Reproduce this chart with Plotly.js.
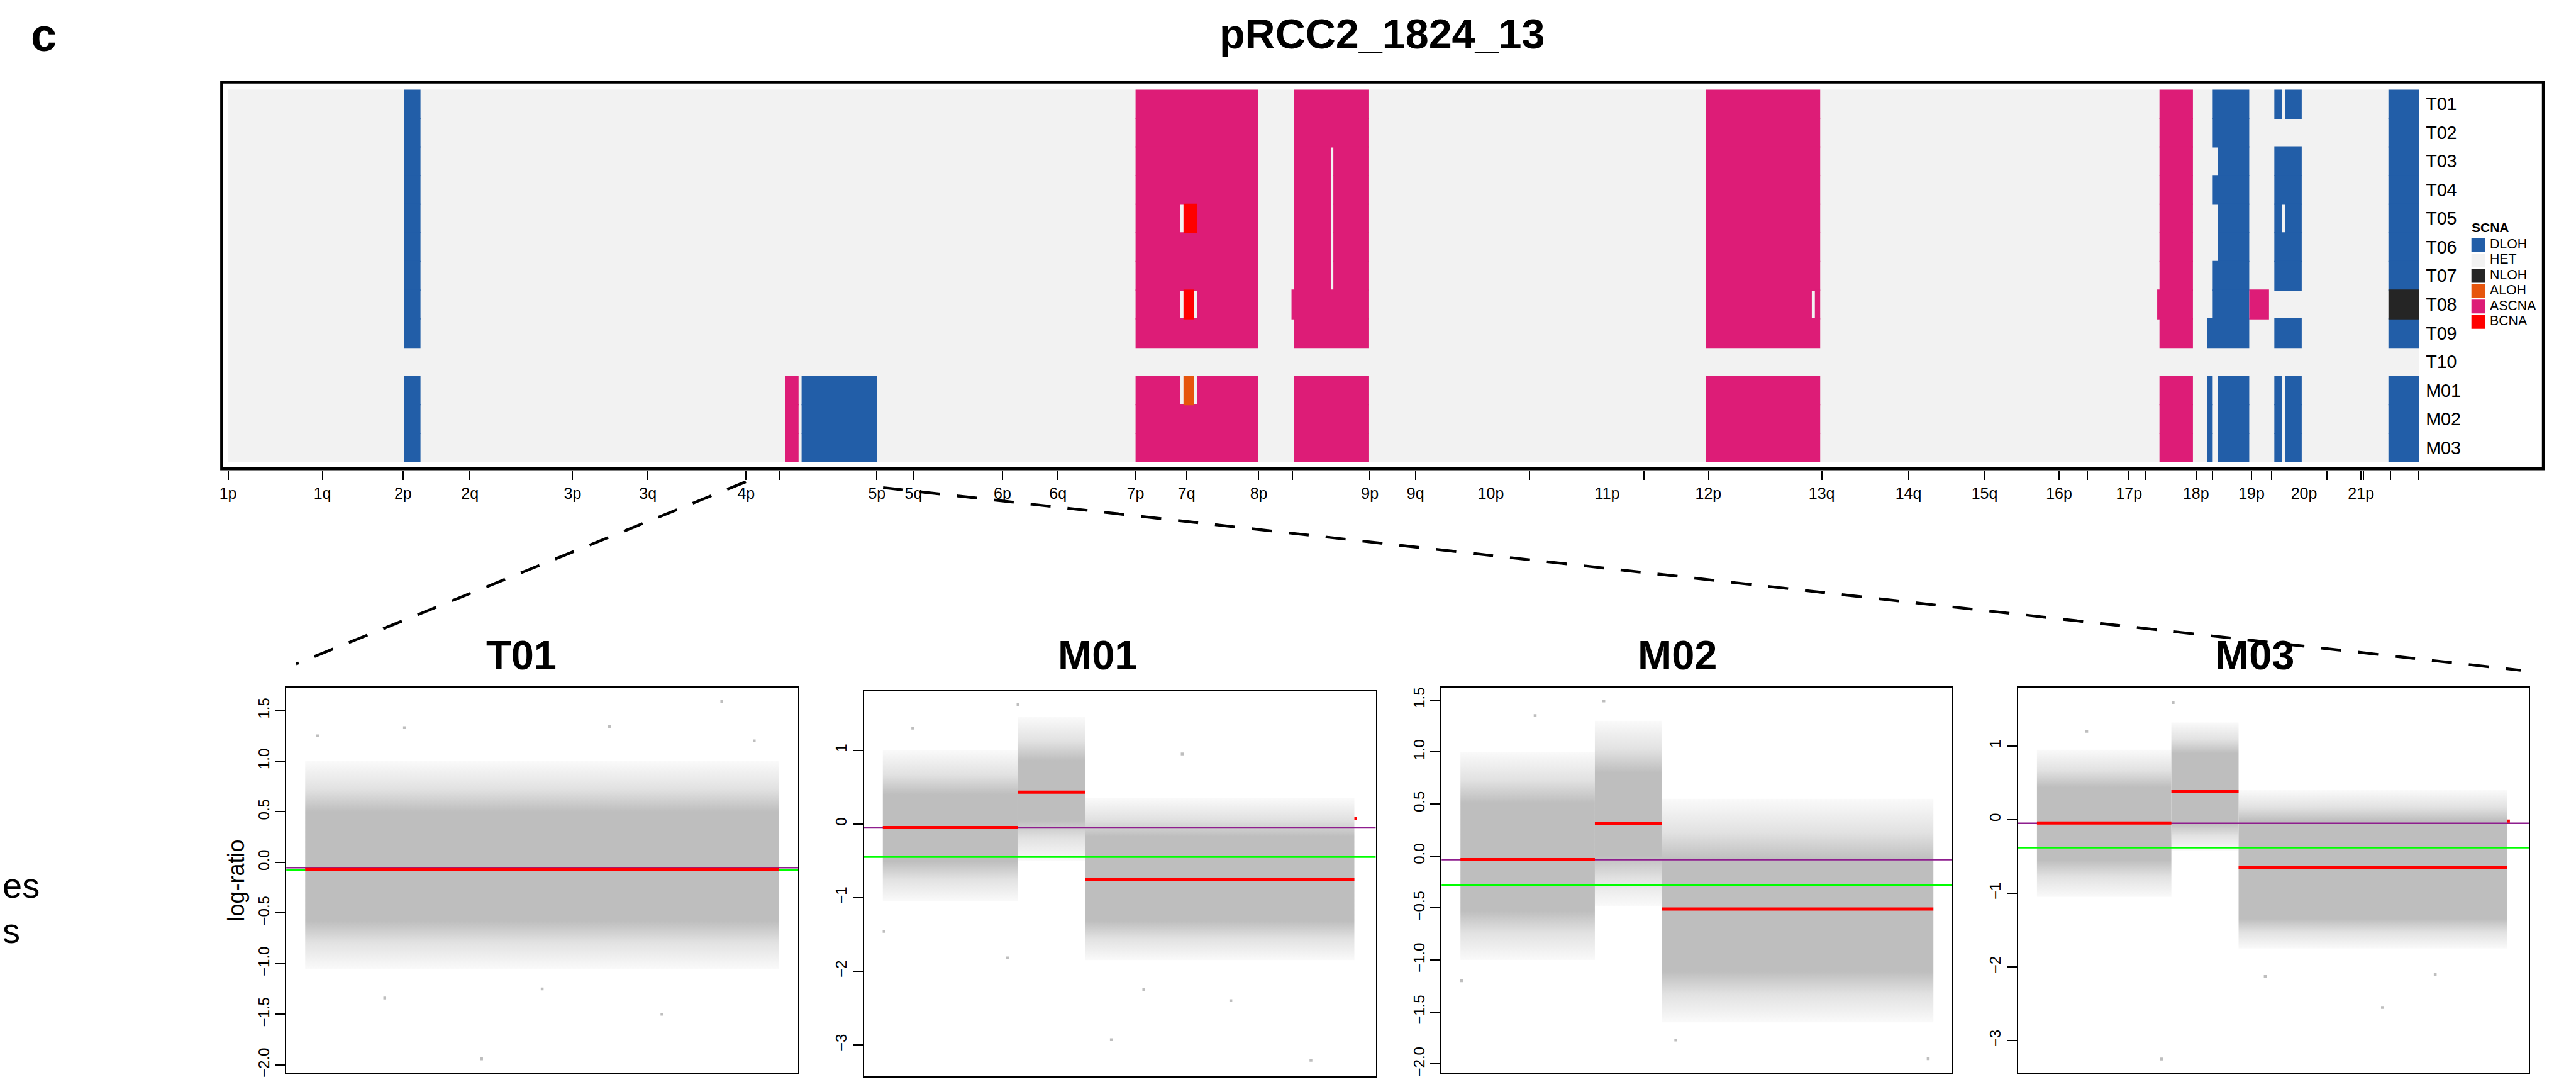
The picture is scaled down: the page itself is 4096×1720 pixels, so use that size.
<!DOCTYPE html>
<html>
<head>
<meta charset="utf-8">
<script src="https://cdn.plot.ly/plotly-3.0.1.min.js"></script>
<style>
html,body{margin:0;padding:0;background:#ffffff;overflow:hidden;}
#chart{width:4096px;height:1720px;}
</style>
</head>
<body>
<div id="chart"></div>
<script>
// ===================== DATA =====================
const sampleRows = ['T01','T02','T03','T04','T05','T06','T07','T08','T09','T10','M01','M02','M03'];

// chromosome-arm start positions (genome coordinate, ~Mb) and their labels
const armStarts = [0,124,230,318,453,552,681,725,853,901,1018,1091,1193,1260,1355,1399,1501,1561,1660,1711,1813,1861,1946,1989,2095,2209,2309,2407,2444,2499,2521,2587,2609,2660,2686,2729,2759,2804,2807,2843,2880];
const armLabels = ['1p','1q','2p','2q','3p','3q','4p','','5p','5q','6p','6q','7p','7q','8p','','9p','9q','10p','','11p','','12p','','13q','14q','15q','16p','','17p','','18p','','19p','','20p','','21p','','',''];

const states = ['DLOH','HET','NLOH','ALOH','ASCNA','BCNA'];
const stateColors = ['#225EA8','#F2F2F2','#252525','#E6550D','#DD1C77','#FF0000'];

// DLOH segments
const dlohRow = [
 'T01','T02','T03','T04','T05','T06','T07','T08','T09','M01','M02','M03',
 'M01','M02','M03',
 'T01','T02','T03','T04','T05','T06','T07','T08','T09','M01','M01','M02','M02','M03','M03',
 'T01','T01','T03','T04','T05','T05','T06','T07','T09','M01','M01','M02','M02','M03','M03',
 'T01','T02','T03','T04','T05','T06','T07','T09','M01','M02','M03'];
const dlohStart = [
 231,231,231,231,231,231,231,231,231,231,231,231,
 754,754,754,
 2609,2609,2616,2609,2616,2616,2609,2609,2602,2602,2616,2602,2616,2602,2616,
 2690,2704,2690,2690,2690,2704,2690,2690,2690,2690,2704,2690,2704,2690,2704,
 2840,2840,2840,2840,2840,2840,2840,2840,2840,2840,2840];
const dlohEnd = [
 253,253,253,253,253,253,253,253,253,253,253,253,
 853,853,853,
 2657,2657,2657,2657,2657,2657,2657,2657,2657,2609,2657,2609,2657,2609,2657,
 2700,2726,2726,2726,2700,2726,2726,2726,2726,2700,2726,2700,2726,2700,2726,
 2880,2880,2880,2880,2880,2880,2880,2880,2880,2880,2880];

// ASCNA segments
const ascnaRow = [
 'M01','M02','M03',
 'T01','T02','T03','T04','T05','T05','T06','T07','T08','T08','T09','M01','M01','M02','M03',
 'T01','T02','T03','T03','T04','T04','T05','T05','T06','T06','T07','T07','T08','T09','M01','M02','M03',
 'T01','T02','T03','T04','T05','T06','T07','T08','T08','T09','M01','M02','M03',
 'T01','T02','T03','T04','T05','T06','T07','T08','T09','M01','M02','M03',
 'T08'];
const ascnaStart = [
 732,732,732,
 1193,1193,1193,1193,1193,1274,1193,1193,1193,1274,1193,1193,1274,1193,1193,
 1401,1401,1401,1453,1401,1453,1401,1453,1401,1453,1401,1453,1398,1401,1401,1401,1401,
 1943,1943,1943,1943,1943,1943,1943,1943,2086,1943,1943,1943,1943,
 2539,2539,2539,2539,2539,2539,2539,2536,2539,2539,2539,2539,
 2657];
const ascnaEnd = [
 750,750,750,
 1354,1354,1354,1354,1252,1354,1354,1354,1252,1354,1354,1252,1354,1354,1354,
 1500,1500,1450,1500,1450,1500,1450,1500,1450,1500,1450,1500,1500,1500,1500,1500,1500,
 2093,2093,2093,2093,2093,2093,2093,2082,2093,2093,2093,2093,2093,
 2583,2583,2583,2583,2583,2583,2583,2583,2583,2583,2583,2583,
 2683];

const bcnaRow = ['T05','T08'];
const bcnaStart = [1256,1256];
const bcnaEnd = [1274,1270];
const alohRow = ['M01'];
const alohStart = [1256];
const alohEnd = [1270];
const nlohRow = ['T08'];
const nlohStart = [2840];
const nlohEnd = [2880];

// ---- chromosome 4 zoom panels (position in Mb, log-ratio) ----
const panelNames = ['T01','M01','M02','M03'];

const t01SegStart = [0];
const t01SegEnd = [190];
const t01SegMean = [-0.07];
const t01CoreLo = [-0.58];
const t01CoreHi = [0.50];
const t01HaloLo = [-1.05];
const t01HaloHi = [1.0];
const t01Purple = -0.052;
const t01Green = -0.075;
const t01OutX = [122, 70.7, 143, 39.8, 167, 31.9, 5, 95, 180];
const t01OutY = [1.34, -1.94, -1.50, 1.33, 1.59, -1.34, 1.25, -1.25, 1.2];

const m01SegStart = [0, 54, 81, 189];
const m01SegEnd = [54, 81, 189, 190];
const m01SegMean = [-0.05, 0.43, -0.75, 0.07];
const m01CoreLo = [-0.51, 0.05, -1.32];
const m01CoreHi = [0.40, 0.86, -0.17];
const m01HaloLo = [-1.05, -0.50, -1.85];
const m01HaloHi = [1.0, 1.45, 0.35];
const m01Purple = -0.055;
const m01Green = -0.45;
const m01OutX = [91.6, 54.2, 104.6, 50, 0.5, 171.6, 139.5, 12, 120];
const m01OutY = [-2.93, 1.62, -2.25, -1.82, -1.46, -3.21, -2.40, 1.3, 0.95];

const m02SegStart = [0, 54, 81];
const m02SegEnd = [54, 81, 190];
const m02SegMean = [-0.035, 0.315, -0.51];
const m02CoreLo = [-0.53, 0.00, -1.11];
const m02CoreHi = [0.51, 0.80, -0.04];
const m02HaloLo = [-1.0, -0.48, -1.6];
const m02HaloHi = [1.0, 1.3, 0.55];
const m02Purple = -0.035;
const m02Green = -0.28;
const m02OutX = [187.9, 86.5, 0.5, 57.6, 30];
const m02OutY = [-1.95, -1.77, -1.20, 1.49, 1.35];

const m03SegStart = [0, 54, 81, 189];
const m03SegEnd = [54, 81, 189, 190];
const m03SegMean = [-0.045, 0.38, -0.65, -0.02];
const m03CoreLo = [-0.55, -0.05, -1.35];
const m03CoreHi = [0.44, 0.90, -0.02];
const m03HaloLo = [-1.05, -0.42, -1.75];
const m03HaloHi = [0.95, 1.32, 0.4];
const m03Purple = -0.05;
const m03Green = -0.38;
const m03OutX = [50, 54.7, 91.7, 138.8, 20, 160];
const m03OutY = [-3.25, 1.59, -2.13, -2.55, 1.2, -2.1];

const t01Ticks = [-2,-1.5,-1,-0.5,0,0.5,1,1.5];
const t01TickText = ['\u22122.0','\u22121.5','\u22121.0','\u22120.5','0.0','0.5','1.0','1.5'];
const m01Ticks = [-3,-2,-1,0,1];
const m01TickText = ['\u22123','\u22122','\u22121','0','1'];

// ===================== BUILD =====================
const W = 4096, H = 1720, S = 0.925;
const PX = v => v * S / W;          // reference x pixel -> paper
const PY = v => 1 - v * S / H;      // reference y pixel -> paper
const FONT = "'Liberation Sans', Arial, Helvetica, sans-serif";

const traces = [];
function barTrace(name, color, rows, starts, ends) {
  return {type:'bar', orientation:'h', name:name, y:rows, base:starts,
    x: ends.map((e,i)=>e-starts[i]), width:1.04,
    marker:{color:color, line:{width:0}}, xaxis:'x', yaxis:'y',
    showlegend:false, hoverinfo:'skip'};
}
const col = s => stateColors[states.indexOf(s)];
traces.push(barTrace('DLOH', col('DLOH'), dlohRow, dlohStart, dlohEnd));
traces.push(barTrace('ASCNA', col('ASCNA'), ascnaRow, ascnaStart, ascnaEnd));
traces.push(barTrace('BCNA', col('BCNA'), bcnaRow, bcnaStart, bcnaEnd));
traces.push(barTrace('ALOH', col('ALOH'), alohRow, alohStart, alohEnd));
traces.push(barTrace('NLOH', col('NLOH'), nlohRow, nlohStart, nlohEnd));

// dummy trace carrying the arm tick axis
traces.push({type:'scatter', mode:'markers', x:armStarts, y:armStarts.map(()=>0.5),
  xaxis:'x2', yaxis:'y2', marker:{opacity:0, size:1}, hoverinfo:'skip', showlegend:false});

// legend (swatches + labels)
traces.push({type:'scatter', mode:'markers', x:states.map(()=>12), y:states,
  xaxis:'x3', yaxis:'y3', marker:{symbol:'square', size:22, color:stateColors, line:{width:0}},
  hoverinfo:'skip', showlegend:false});
traces.push({type:'scatter', mode:'text', x:states.map(()=>32), y:states, text:states,
  textposition:'middle right', textfont:{family:FONT, size:21.3, color:'#000'},
  xaxis:'x3', yaxis:'y3', hoverinfo:'skip', showlegend:false});

// zoom panels
const panels = [
  {n:'T01', ss:t01SegStart, se:t01SegEnd, m:t01SegMean, cl:t01CoreLo, ch:t01CoreHi, hl:t01HaloLo, hh:t01HaloHi, pu:t01Purple, gr:t01Green, ox:t01OutX, oy:t01OutY,
   box:[492,1372,1182,1844], yr:[-2.08,1.724], tv:t01Ticks, tt:t01TickText, tx:896},
  {n:'M01', ss:m01SegStart, se:m01SegEnd, m:m01SegMean, cl:m01CoreLo, ch:m01CoreHi, hl:m01HaloLo, hh:m01HaloHi, pu:m01Purple, gr:m01Green, ox:m01OutX, oy:m01OutY,
   box:[1485,2365,1188,1850], yr:[-3.43,1.80], tv:m01Ticks, tt:m01TickText, tx:1886},
  {n:'M02', ss:m02SegStart, se:m02SegEnd, m:m02SegMean, cl:m02CoreLo, ch:m02CoreHi, hl:m02HaloLo, hh:m02HaloHi, pu:m02Purple, gr:m02Green, ox:m02OutX, oy:m02OutY,
   box:[2478,3356,1182,1844], yr:[-2.087,1.617], tv:t01Ticks, tt:t01TickText, tx:2883},
  {n:'M03', ss:m03SegStart, se:m03SegEnd, m:m03SegMean, cl:m03CoreLo, ch:m03CoreHi, hl:m03HaloLo, hh:m03HaloHi, pu:m03Purple, gr:m03Green, ox:m03OutX, oy:m03OutY,
   box:[3469,4347,1182,1844], yr:[-3.44,1.79], tv:m01Ticks, tt:m01TickText, tx:3876}
];
const dataLo = 0, dataHi = 190;
const xPad = (dataHi - dataLo) * 0.04;
const xr = [dataLo - xPad, dataHi + xPad];

const layout = {
  width: W, height: H, autosize:false,
  margin:{l:0,r:0,t:0,b:0,pad:0},
  paper_bgcolor:'#ffffff', plot_bgcolor:'rgba(0,0,0,0)',
  font:{family:FONT, color:'#000'},
  barmode:'overlay', showlegend:false,
  xaxis:{domain:[PX(392),PX(4158)], range:[0,2880], showgrid:false, zeroline:false,
    showticklabels:false, ticks:'', showline:false, anchor:'y', fixedrange:true},
  yaxis:{domain:[PY(794),PY(154)], type:'category', categoryorder:'array', categoryarray:sampleRows,
    range:[12.5,-0.5], side:'right', showgrid:false, zeroline:false, ticks:'', showline:false,
    tickfont:{family:FONT, size:28.7, color:'#000'}, ticklabelstandoff:10, anchor:'x', fixedrange:true},
  xaxis2:{domain:[PX(392),PX(4158)], range:[0,2880], anchor:'y2', tickmode:'array',
    tickvals:armStarts, ticktext:armLabels, ticks:'outside', ticklen:15, tickwidth:1.8, tickcolor:'#000',
    showgrid:false, zeroline:false, showline:false, tickfont:{family:FONT, size:25, color:'#000'}, fixedrange:true},
  yaxis2:{domain:[PY(808),PY(154)], range:[0,1], visible:false, anchor:'x2', fixedrange:true},
  xaxis3:{domain:[PX(4248),PX(4428)], range:[0,180], visible:false, anchor:'y3', fixedrange:true},
  yaxis3:{domain:[PY(566.5),PY(408)], type:'category', categoryorder:'array', categoryarray:states,
    range:[5.5,-0.5], visible:false, anchor:'x3', fixedrange:true},
  shapes:[], annotations:[]
};

const GRAY = '190,190,190';
panels.forEach((p, k) => {
  const ax = k + 4;
  const xa = 'x' + ax, ya = 'y' + ax;
  // point cloud drawn as a vertical density gradient per segment
  p.hl.forEach((lo, i) => {
    const hi = p.hh[i];
    const a = (p.cl[i] - lo) / (hi - lo);
    const b = (p.ch[i] - lo) / (hi - lo);
    traces.push({type:'scatter', mode:'lines',
      x:[p.ss[i], p.se[i], p.se[i], p.ss[i], p.ss[i]],
      y:[lo, lo, hi, hi, lo],
      fill:'toself', fillcolor:'rgba(' + GRAY + ',0.6)',
      fillgradient:{type:'vertical', start:lo, stop:hi,
        colorscale:[[0,'rgba(' + GRAY + ',0.08)'],[a*0.55,'rgba(' + GRAY + ',0.45)'],[a,'rgba(' + GRAY + ',1)'],
                    [b,'rgba(' + GRAY + ',1)'],[b + (1-b)*0.45,'rgba(' + GRAY + ',0.45)'],[1,'rgba(' + GRAY + ',0.08)']]},
      line:{width:0, color:'rgba(0,0,0,0)'}, xaxis:xa, yaxis:ya, hoverinfo:'skip', showlegend:false});
  });
  traces.push({type:'scatter', mode:'markers', x:p.ox, y:p.oy, marker:{size:4.5, color:'#BEBEBE', symbol:'square'},
    xaxis:xa, yaxis:ya, hoverinfo:'skip', showlegend:false});
  traces.push({type:'scatter', mode:'lines', x:xr, y:[p.pu,p.pu], line:{color:'#8E1E8E', width:2.4},
    xaxis:xa, yaxis:ya, hoverinfo:'skip', showlegend:false});
  traces.push({type:'scatter', mode:'lines', x:xr, y:[p.gr,p.gr], line:{color:'#00FF00', width:2.8},
    xaxis:xa, yaxis:ya, hoverinfo:'skip', showlegend:false});
  const sx = [], sy = [];
  p.m.forEach((v,i)=>{ sx.push(p.ss[i], p.se[i], null); sy.push(v, v, null); });
  traces.push({type:'scatter', mode:'lines', x:sx, y:sy, line:{color:'#FF0000', width:5},
    xaxis:xa, yaxis:ya, hoverinfo:'skip', showlegend:false});

  const [l, r, t, b] = p.box;
  layout['xaxis' + ax] = {domain:[PX(l),PX(r)], range:xr, showgrid:false, zeroline:false,
    showticklabels:false, ticks:'', showline:true, mirror:true, linecolor:'#000', linewidth:2,
    anchor:ya, fixedrange:true};
  layout['yaxis' + ax] = {domain:[PY(b),PY(t)], range:p.yr, tickmode:'array', tickvals:p.tv, ticktext:p.tt,
    ticks:'outside', ticklen:16, tickwidth:2, tickcolor:'#000', tickangle:-90,
    tickfont:{family:FONT, size:24, color:'#000'}, showgrid:false, zeroline:false,
    showline:true, mirror:true, linecolor:'#000', linewidth:2, anchor:xa, fixedrange:true};
  layout.annotations.push({text:'<b>' + p.n + '</b>', xref:'paper', yref:'paper', x:PX(p.tx), y:PY(1126),
    xanchor:'center', yanchor:'middle', showarrow:false, font:{family:FONT, size:65, color:'#000'}});
});
layout.yaxis4.title = {text:'log-ratio', font:{family:FONT, size:36, color:'#000'}, standoff:6};

// heatmap background + frame + dashed connectors
layout.shapes.push({type:'rect', xref:'x domain', yref:'y domain', x0:0, x1:1, y0:0, y1:1,
  fillcolor:'#F2F2F2', line:{width:0}, layer:'below'});
layout.shapes.push({type:'rect', xref:'paper', yref:'paper', x0:PX(381), x1:PX(4372), y0:PY(805.5), y1:PY(141),
  line:{color:'#000', width:4.6}, fillcolor:'rgba(0,0,0,0)'});
layout.shapes.push({type:'line', xref:'paper', yref:'paper', x0:PX(1282), y0:PY(828), x1:PX(509), y1:PY(1141),
  line:{color:'#000', width:4.4, dash:'32px,27px'}});
layout.shapes.push({type:'line', xref:'paper', yref:'paper', x0:PX(1518), y0:PY(838), x1:PX(4333), y1:PY(1152),
  line:{color:'#000', width:4.4, dash:'32px,27px'}});

// texts
layout.annotations.push({text:'<b>pRCC2_1824_13</b>', xref:'paper', yref:'paper', x:PX(2376), y:PY(58),
  xanchor:'center', yanchor:'middle', showarrow:false, font:{family:FONT, size:66.5, color:'#000'}});
layout.annotations.push({text:'<b>c</b>', xref:'paper', yref:'paper', x:PX(75), y:PY(60),
  xanchor:'center', yanchor:'middle', showarrow:false, font:{family:FONT, size:74, color:'#000'}});
layout.annotations.push({text:'<b>SCNA</b>', xref:'paper', yref:'paper', x:PX(4247), y:PY(391),
  xanchor:'left', yanchor:'middle', showarrow:false, font:{family:FONT, size:21, color:'#000'}});
layout.annotations.push({text:'es', xref:'paper', yref:'paper', x:PX(2), y:PY(1522),
  xanchor:'left', yanchor:'middle', showarrow:false, font:{family:FONT, size:56, color:'#000'}});
layout.annotations.push({text:'s', xref:'paper', yref:'paper', x:PX(2), y:PY(1599),
  xanchor:'left', yanchor:'middle', showarrow:false, font:{family:FONT, size:56, color:'#000'}});

Plotly.newPlot('chart', traces, layout, {staticPlot:true, displayModeBar:false});
</script>
</body>
</html>
